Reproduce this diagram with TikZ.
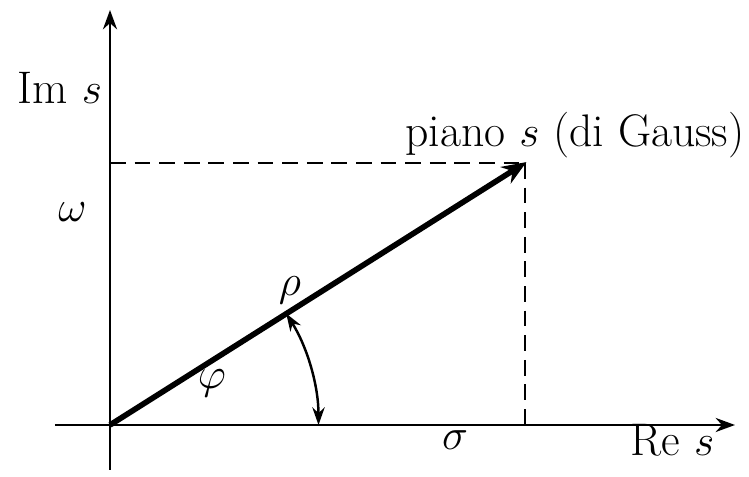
\documentclass[tikz,border=0pt]{standalone}
\usepackage{tikz}
\usetikzlibrary{arrows.meta,positioning}

\begin{document}
\begin{tikzpicture}[
    font=\fontsize{26}{30}\selectfont,
    >=Stealth,
    axis/.style={line width=1.6pt, ->, >={Stealth[length=11pt,width=8pt]}},
    proj/.style={dashed, line width=1.3pt, dash pattern=on 9pt off 5pt},
    lbl/.style={inner sep=1pt}
]
    \useasboundingbox (-2.2,-1.04) rectangle (12.78,8.5);

    \coordinate (O) at (0,0);
    \coordinate (P) at (8.3,5.24);
    \coordinate (xs) at (-1.1,0);
    \coordinate (xe) at (12.5,0);
    \coordinate (ys) at (0,-0.9);
    \coordinate (ye) at (0,8.3);
    \coordinate (Py) at (0,5.24);
    \coordinate (Px) at (8.3,0);

    % axes
    \draw[axis] (xs) -- (xe);
    \draw[axis] (ys) -- (ye);

    % projections
    \draw[proj] (Py) -- (P);
    \draw[proj] (P) -- (Px);

    % vector
    \draw[line width=3.2pt, ->, >={Stealth[length=14pt,width=11pt]}, shorten >=-1pt] (O) -- (P);

    % angle
    \draw[line width=1.4pt, <->, >={Stealth[length=10pt,width=7pt]}] (4.17,0) arc[start angle=0, end angle=32.3, radius=4.17];

    \node[lbl] (ims) at (-1.0,6.74) {Im $s$};
    \node[lbl] (res) at (11.25,-0.3) {Re $s$};
    \node[lbl] (om) at (-0.75,4.26) {$\omega$};
    \node[lbl] (sg) at (6.9,-0.3) {$\sigma$};
    \node[lbl] (rh) at (3.6,2.7) {$\rho$};
    \node[lbl] (ph) at (2.04,0.84) {$\varphi$};
    \node[lbl] (pl) at (9.3,5.8) {piano $s$ (di Gauss)};
\end{tikzpicture}
\end{document}
